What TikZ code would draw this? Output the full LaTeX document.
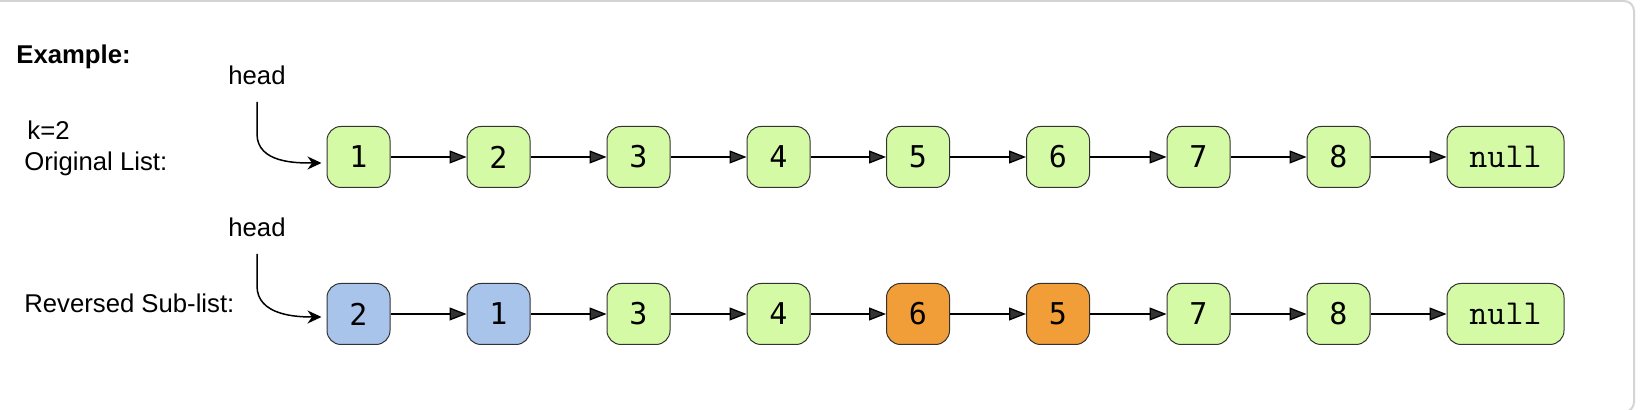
\documentclass[tikz,border=0pt]{standalone}
\usepackage{fontspec}
\setmainfont{Liberation Sans}
\newfontfamily\numfont{DejaVu Sans Mono}
\usetikzlibrary{arrows.meta}
\definecolor{ngreen}{RGB}{213,250,165}
\definecolor{nblue}{RGB}{169,196,235}
\definecolor{norange}{RGB}{241,157,56}
\definecolor{nstroke}{RGB}{51,51,51}
\definecolor{framegray}{RGB}{212,212,214}
\tikzset{
  lnode/.style={draw=nstroke, line width=0.5pt, rounded corners=7pt,
    minimum width=31.5pt, minimum height=30.5pt, inner sep=0pt},
  numtext/.style={font=\numfont\fontsize{15}{17}\selectfont},
  gnode/.style={lnode, numtext, fill=ngreen},
  bnode/.style={lnode, numtext, fill=nblue},
  onode/.style={lnode, numtext, fill=norange},
  nullnode/.style={lnode, fill=ngreen, minimum width=58.5pt,
    font=\ttfamily\fontsize{17.5}{19}\selectfont},
  lbl/.style={inner sep=0pt, anchor=west, font=\fontsize{12.85}{15}\selectfont},
  link/.style={line width=0.65pt, -{Triangle[length=8.5pt,width=6.5pt,fill=black!80]}},
  headarrow/.style={line width=0.75pt, -{Stealth[length=7pt,width=6.5pt]}}
}
\begin{document}
\begin{tikzpicture}[x=0.5pt,y=-0.5pt]
\useasboundingbox (0,0) rectangle (1640,410);
\draw[framegray, line width=1pt, rounded corners=5pt] (-20,1) rectangle (1634,412);

\node[lbl, font=\bfseries\fontsize{12.85}{15}\selectfont] (ex) at (16,57) {Example:};
\node[lbl] (k) at (27,130) {k=2};
\node[lbl] (orig) at (24,164) {Original List:};
\node[lbl] (rev) at (24,303) {Reversed Sub-list:};
\node[inner sep=0pt, font=\fontsize{12.85}{15}\selectfont] (h1) at (257,75) {head};
\node[inner sep=0pt, font=\fontsize{12.85}{15}\selectfont] (h2) at (257,227) {head};

% row 1
\node[gnode] (a1) at (358.5,157) {1};
\node[gnode] (a2) at (498.5,157) {2};
\node[gnode] (a3) at (638.5,157) {3};
\node[gnode] (a4) at (778.5,157) {4};
\node[gnode] (a5) at (918,157) {5};
\node[gnode] (a6) at (1058,157) {6};
\node[gnode] (a7) at (1198.5,157) {7};
\node[gnode] (a8) at (1338.5,157) {8};
\node[nullnode] (an) at (1505.5,157) {null};

% row 2
\node[bnode] (b1) at (358.5,314) {2};
\node[bnode] (b2) at (498.5,314) {1};
\node[gnode] (b3) at (638.5,314) {3};
\node[gnode] (b4) at (778.5,314) {4};
\node[onode] (b5) at (918,314) {6};
\node[onode] (b6) at (1058,314) {5};
\node[gnode] (b7) at (1198.5,314) {7};
\node[gnode] (b8) at (1338.5,314) {8};
\node[nullnode] (bn) at (1505.5,314) {null};

\foreach \p/\q in {a1/a2,a2/a3,a3/a4,a4/a5,a5/a6,a6/a7,a7/a8,a8/an,
                   b1/b2,b2/b3,b3/b4,b4/b5,b5/b6,b6/b7,b7/b8,b8/bn}
  \draw[link] (\p.east) -- (\q.west);

\draw[headarrow, shorten <=8.5pt, shorten >=2.5pt] (h1.south) -- ++(0,49) to[out=-90,in=180] ([yshift=-3pt]a1.west);
\draw[headarrow, shorten <=8.5pt, shorten >=2.5pt] (h2.south) -- ++(0,49) to[out=-90,in=180] ([yshift=-1.5pt]b1.west);
\end{tikzpicture}
\end{document}
